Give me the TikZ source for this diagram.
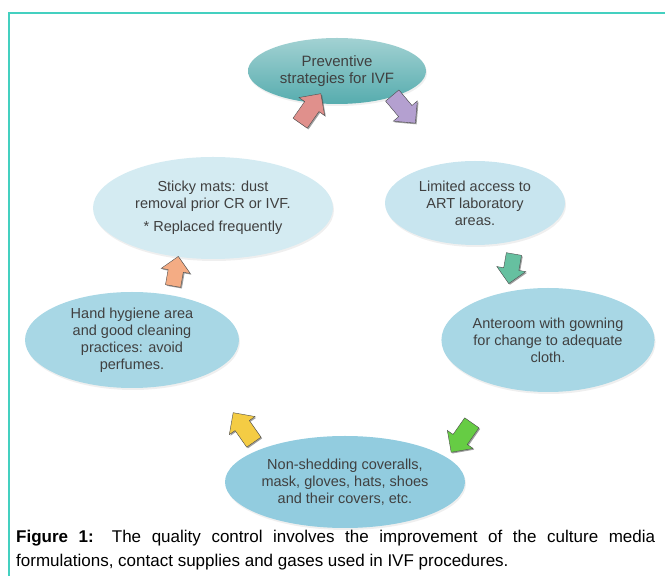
\documentclass[tikz,border=0pt]{standalone}
\usepackage{fontspec}
\setmainfont{Liberation Sans}
\usetikzlibrary{shapes.geometric,shapes.arrows,shadows}

\definecolor{FrameTeal}{HTML}{44D0C0}
\definecolor{TextGrey}{HTML}{404040}
\definecolor{TopTeal}{HTML}{56ACAE}
\definecolor{PaleBlue}{HTML}{D4EBF2}
\definecolor{LightBlue}{HTML}{C8E5EF}
\definecolor{MidBlue}{HTML}{A8D7E5}
\definecolor{DeepBlue}{HTML}{92CCDF}

\begin{document}
\begin{tikzpicture}[x=1pt,y=1pt,
        bubble/.style={ellipse,inner sep=0pt,align=center,text=TextGrey,
                       font=\fontsize{14.5}{17}\selectfont,
                       drop shadow={shadow xshift=1pt,shadow yshift=-2pt,fill=black!12}},
        turn/.style={single arrow,inner sep=8.5pt,minimum height=36pt,
                     single arrow head extend=7pt,draw=black!70,line width=0.4pt,
                     drop shadow={shadow xshift=1.2pt,shadow yshift=-1.2pt,fill=black!75}},
        capline/.style={anchor=base west,inner sep=0pt,font=\fontsize{17}{24}\selectfont}]
    \useasboundingbox (0,0) rectangle (665,576);

    \draw[line width=1.6pt,FrameTeal] (9,0) |- (665,563);   % frame, only two sides show

    \node[bubble,minimum width=178pt,minimum height=66pt,top color=TopTeal!55,bottom color=TopTeal,
          font=\fontsize{15}{17}\selectfont] (prev) at (337,505) {Preventive\\strategies for IVF};
    \node[bubble,minimum width=240pt,minimum height=102pt,fill=PaleBlue] (mats) at (213,368)
          {Sticky mats: dust\\removal prior CR or IVF.\\[6pt]* Replaced frequently};
    \node[bubble,minimum width=180pt,minimum height=84pt,fill=LightBlue] (access) at (475,373)
          {Limited access to\\ART laboratory\\areas.};
    \node[bubble,minimum width=214pt,minimum height=96pt,fill=MidBlue] (hands) at (132,236)
          {Hand hygiene area\\and good cleaning\\practices: avoid\\perfumes.};
    \node[bubble,minimum width=206pt,minimum height=104pt,fill=MidBlue] (ante) at (548,236)
          {Anteroom with gowning\\for change to adequate\\cloth.};
    \node[bubble,minimum width=240pt,minimum height=92pt,fill=DeepBlue] (cover) at (345,94)
          {Non-shedding coveralls,\\mask, gloves, hats, shoes\\and their covers, etc.};

    % cycle arrows
    \node[turn,fill={rgb,255:red,224;green,144;blue,140},rotate=55]   (a1) at (308,464) {};
    \node[turn,fill={rgb,255:red,180;green,160;blue,208},rotate=-50]  (a2) at (401,470) {};
    \node[turn,fill={rgb,255:red,102;green,192;blue,160},rotate=-100,
          minimum height=30pt,inner sep=7.5pt] (a3) at (512,311) {};
    \node[turn,fill={rgb,255:red,102;green,204;blue,68},rotate=-125]  (a4) at (464,142) {};
    \node[turn,fill={rgb,255:red,244;green,204;blue,68},rotate=125]   (a5) at (246,145) {};
    \node[turn,fill={rgb,255:red,244;green,172;blue,132},rotate=80,
          minimum height=30pt,inner sep=7.5pt] (a6) at (175,301) {};

    \node[capline] (cap1) at (16,33)
          {\makebox[639pt][s]{\textbf{Figure 1:} The quality control involves the improvement of the culture media}};
    \node[capline] (cap2) at (16,9)
          {formulations, contact supplies and gases used in IVF procedures.};
\end{tikzpicture}
\end{document}
